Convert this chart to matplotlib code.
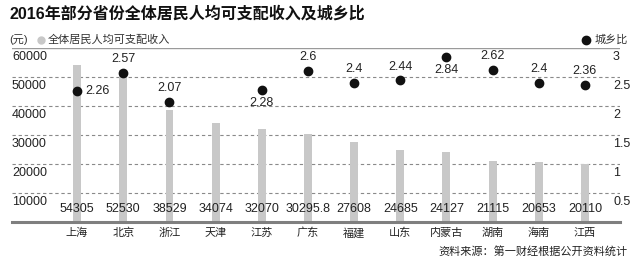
import matplotlib
matplotlib.use('Agg')
import matplotlib.pyplot as plt
from matplotlib.lines import Line2D
from matplotlib.transforms import blended_transform_factory

plt.rcParams['font.family'] = ['Liberation Sans', 'Noto Sans CJK SC', 'DejaVu Sans']

provinces = ['上海', '北京', '浙江', '天津', '江苏', '广东', '福建', '山东', '内蒙古', '湖南', '海南', '江西']
income = [54305, 52530, 38529, 34074, 32070, 30295.8, 27608, 24685, 24127, 21115, 20653, 20110]
income_labels = ['54305', '52530', '38529', '34074', '32070', '30295.8', '27608', '24685', '24127', '21115', '20653', '20110']
ratio = [2.26, 2.57, 2.07, None, 2.28, 2.6, 2.4, 2.44, 2.84, 2.62, 2.4, 2.36]
ratio_labels = ['2.26', '2.57', '2.07', '', '2.28', '2.6', '2.4', '2.44', '2.84', '2.62', '2.4', '2.36']
# where the ratio label sits relative to its dot
label_pos = ['right', 'up', 'up', '', 'down', 'up', 'up', 'up', 'down', 'up', 'up', 'up']

left_ticks = [10000, 20000, 30000, 40000, 50000, 60000]
right_ticks = [0.5, 1, 1.5, 2, 2.5, 3]
right_tick_labels = ['0.5', '1', '1.5', '2', '2.5', '3']

W, H = 640, 262
fig = plt.figure(figsize=(6.4, 2.62), dpi=100)
ax = fig.add_axes([12 / W, 1 - 222 / H, 608 / W, 174 / H])
ax2 = ax.twinx()

x = list(range(len(provinces)))
ax.bar(x, income, width=0.17, color='#c8c8c8', zorder=2)
ax.set_xlim(-1.41, 11.76)
ax.set_ylim(0, 60000)
ax2.set_ylim(0, 3)

for i, lab in enumerate(income_labels):
    ax.annotate(lab, (i, 0), xytext=(0, 9.5), textcoords='offset points',
                ha='center', va='center', fontsize=9, color='#222222')

# gridlines
for v in left_ticks[:-1]:
    ax.axhline(v, color='#8a8a8a', lw=0.8, ls=(0, (3, 2.5)), zorder=1)
ax.axhline(60000, color='#9a9a9a', lw=1.0, zorder=1)
ax.axhline(0, color='#7f7f7f', lw=2.2, zorder=3, clip_on=False)

for s in ['top', 'bottom', 'left', 'right']:
    ax.spines[s].set_visible(False)
    ax2.spines[s].set_visible(False)
ax.set_xticks([])
ax.set_yticks([])
ax2.set_yticks([])

tr = blended_transform_factory(ax.transAxes, ax.transData)
for v in left_ticks:
    ax.annotate(str(v), (0, v), xycoords=tr, xytext=(0, -6.5), textcoords='offset points',
                ha='left', va='center', fontsize=9, color='#222222')
tr2 = blended_transform_factory(ax2.transAxes, ax2.transData)
for v, lab in zip(right_ticks, right_tick_labels):
    ax2.annotate(lab, (0.9885, v), xycoords=tr2, xytext=(0, -6.5), textcoords='offset points',
                 ha='left', va='center', fontsize=9, color='#222222')

# ratio dots
for i, r in enumerate(ratio):
    if r is None:
        continue
    ax2.scatter(i, r, s=36, color='#111111', zorder=5)
    pos = label_pos[i]
    if pos == 'right':
        off, ha = (6, 0), 'left'
    elif pos == 'down':
        off, ha = (0, -9.5), 'center'
    else:
        off, ha = (0, 10), 'center'
    ax2.annotate(ratio_labels[i], (i, r), xytext=off, textcoords='offset points',
                 ha=ha, va='center', fontsize=9, color='#222222')

for i, p in enumerate(provinces):
    ax.annotate(p, (i, 0), xytext=(0, -8), textcoords='offset points',
                ha='center', va='center', fontsize=8, color='#222222', annotation_clip=False)

# title and legend row
fig.text(9 / W, 1 - 14 / H, '2016年部分省份全体居民人均可支配收入及城乡比',
         fontsize=11.5, fontweight='bold', ha='left', va='center', color='#111111')
fig.text(9 / W, 1 - 40 / H, '(元)', fontsize=8, ha='left', va='center', color='#333333')
fig.add_artist(Line2D([41 / W], [1 - 40 / H], marker='o', markersize=5, color='#c8c8c8',
                      lw=0, transform=fig.transFigure))
fig.text(48 / W, 1 - 40 / H, '全体居民人均可支配收入', fontsize=8, ha='left', va='center', color='#333333')
fig.add_artist(Line2D([586 / W], [1 - 40 / H], marker='o', markersize=6, color='#111111',
                      lw=0, transform=fig.transFigure))
fig.text(595 / W, 1 - 40 / H, '城乡比', fontsize=8, ha='left', va='center', color='#333333')

fig.text(628 / W, 1 - 251 / H, '资料来源：第一财经根据公开资料统计', fontsize=8,
         ha='right', va='center', color='#222222')

fig.savefig('out.png', dpi=100, facecolor='white')
